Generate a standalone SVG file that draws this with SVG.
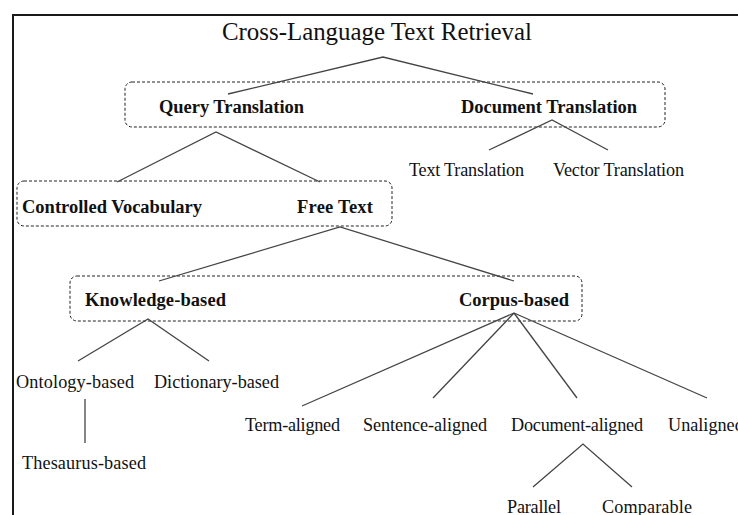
<svg xmlns="http://www.w3.org/2000/svg" width="738" height="515" viewBox="0 0 738 515">
  <style>
    .frame { fill: none; stroke: #1a1a1a; stroke-width: 2; }
    .group { fill: none; stroke: #222; stroke-width: 1; stroke-dasharray: 3 2; }
    .edge { stroke: #444; stroke-width: 1.3; fill: none; }
    text { font-family: "Liberation Serif", "Times New Roman", serif; fill: #111; }
    .title { font-size: 24.9px; }
    .bold { font-size: 18.5px; font-weight: bold; }
    .leaf { font-size: 18.2px; }
  </style>
  <rect x="0" y="0" width="738" height="515" fill="#fff"/>
  <!-- outer frame -->
  <path class="frame" d="M13 515 V15 H738"/>

  <!-- dashed grouping boxes -->
  <g id="groups">
    <rect class="group" x="125" y="82" width="540" height="45" rx="7"/>
    <rect class="group" x="17" y="181" width="375" height="45" rx="7"/>
    <rect class="group" x="70" y="276" width="512" height="45" rx="7"/>
  </g>

  <!-- connectors -->
  <g id="connectors">
    <polyline class="edge" points="228,94 383,57 533,94"/>
    <polyline class="edge" points="489,150 552,120 608,150"/>
    <polyline class="edge" points="117,182 216,132 320,182"/>
    <polyline class="edge" points="159,281 340,227 514,281"/>
    <polyline class="edge" points="78,361 148,319 209,361"/>
    <line class="edge" x1="85" y1="399" x2="85" y2="443"/>
    <line class="edge" x1="514" y1="313" x2="302" y2="406"/>
    <line class="edge" x1="514" y1="313" x2="433" y2="398"/>
    <line class="edge" x1="514" y1="313" x2="577" y2="398"/>
    <line class="edge" x1="514" y1="313" x2="707" y2="398"/>
    <polyline class="edge" points="533,487 583,444 632,487"/>
  </g>

  <g id="root"><text class="title" x="222" y="40" textLength="310">Cross-Language Text Retrieval</text></g>
  <g id="query-translation"><text class="bold" x="159" y="113" textLength="145">Query Translation</text></g>
  <g id="document-translation"><text class="bold" x="461" y="113" textLength="176">Document Translation</text></g>
  <g id="text-translation"><text class="leaf" x="409" y="176" textLength="115">Text Translation</text></g>
  <g id="vector-translation"><text class="leaf" x="553" y="176" textLength="131">Vector Translation</text></g>
  <g id="controlled-vocabulary"><text class="bold" x="22" y="213" textLength="180">Controlled Vocabulary</text></g>
  <g id="free-text"><text class="bold" x="297" y="213" textLength="76">Free Text</text></g>
  <g id="knowledge-based"><text class="bold" x="85" y="306" textLength="141">Knowledge-based</text></g>
  <g id="corpus-based"><text class="bold" x="459" y="306" textLength="110">Corpus-based</text></g>
  <g id="ontology-based"><text class="leaf" x="16" y="388" textLength="118">Ontology-based</text></g>
  <g id="dictionary-based"><text class="leaf" x="154" y="388" textLength="125">Dictionary-based</text></g>
  <g id="thesaurus-based"><text class="leaf" x="22" y="469" textLength="124">Thesaurus-based</text></g>
  <g id="term-aligned"><text class="leaf" x="245" y="431" textLength="95">Term-aligned</text></g>
  <g id="sentence-aligned"><text class="leaf" x="363" y="431" textLength="124">Sentence-aligned</text></g>
  <g id="document-aligned"><text class="leaf" x="511" y="431" textLength="132">Document-aligned</text></g>
  <g id="unaligned"><text class="leaf" x="668" y="431">Unaligned</text></g>
  <g id="parallel"><text class="leaf" x="507" y="513" textLength="54">Parallel</text></g>
  <g id="comparable"><text class="leaf" x="602" y="513" textLength="90">Comparable</text></g>
</svg>
